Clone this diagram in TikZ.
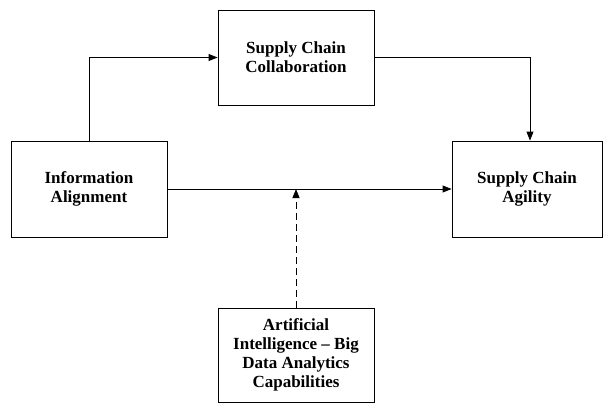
\documentclass[tikz,border=0pt]{standalone}
\usepackage{fontspec}
\setmainfont{Liberation Serif}
\usetikzlibrary{arrows.meta}
\begin{document}
\begin{tikzpicture}[x=1pt,y=-1pt,
  box/.style={draw, line width=0.9pt, align=center, inner sep=0pt,
    font=\fontsize{17}{19}\selectfont\bfseries},
  conn/.style={line width=0.9pt, -{Triangle[length=9pt,width=7pt]}},
  dashconn/.style={conn, dash pattern=on 7pt off 4pt}]
\useasboundingbox (0,0) rectangle (603,404);
\node[box, minimum width=156pt, minimum height=96pt] (ia) at (89,189) {Information\\Alignment};
\node[box, minimum width=156pt, minimum height=95pt] (scc) at (296,57.5) {Supply Chain\\Collaboration};
\node[box, minimum width=150pt, minimum height=96pt] (sca) at (527,189) {Supply Chain\\Agility};
\node[box, minimum width=156pt, minimum height=94pt] (ai) at (296,355) {Artificial\\Intelligence -- Big\\Data Analytics\\Capabilities};
\coordinate (m) at (296,189);
\draw[conn] (ia.north) |- (scc.west);
\draw[conn] (scc.east) -| ([xshift=3pt]sca.north);
\draw[conn] (ia.east) -- (sca.west);
\draw[dashconn] (ai.north) -- (m);
\end{tikzpicture}
\end{document}
